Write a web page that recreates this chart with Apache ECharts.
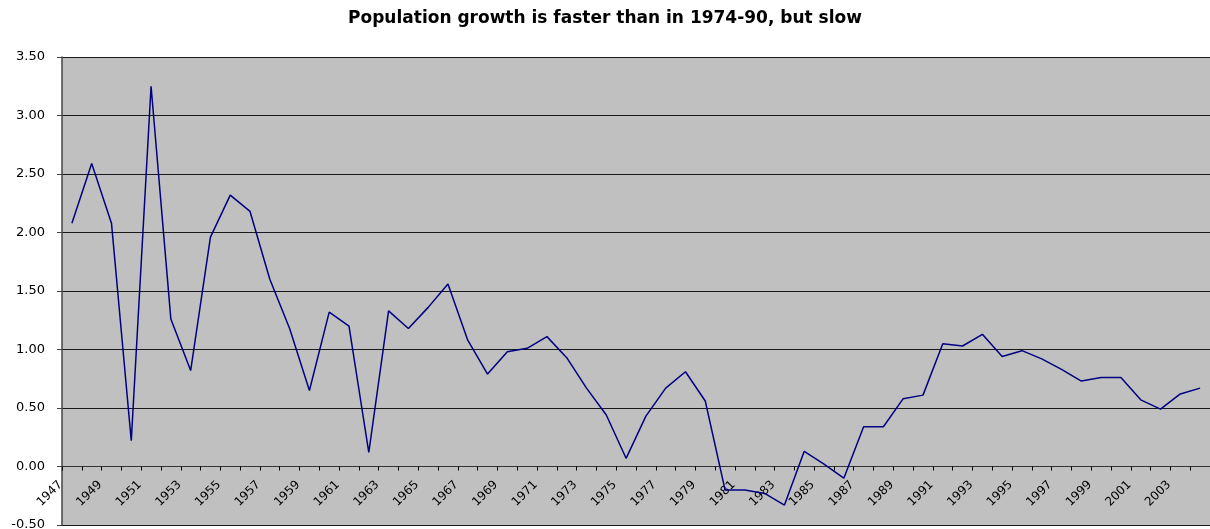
<!DOCTYPE html>
<html>
<head>
<meta charset="utf-8">
<title>Population growth</title>
<script src="https://cdn.jsdelivr.net/npm/echarts@6/dist/echarts.min.js"></script>
<style>
  html, body { margin: 0; padding: 0; background: #fff; }
  #main { width: 1210px; height: 529px; }
</style>
</head>
<body>
<div id="main"></div>
<script>
// years on the x axis
var years = [];
for (var y = 1947; y <= 2004; y++) years.push(String(y));

// population growth, % per year
var growth = [
  2.08, 2.59, 2.08, 0.22, 3.25, 1.26, 0.82, 1.96, 2.32, 2.18,
  1.60, 1.18, 0.65, 1.32, 1.20, 0.12, 1.33, 1.18, 1.36, 1.56,
  1.08, 0.79, 0.98, 1.01, 1.11, 0.93, 0.67, 0.44, 0.07, 0.43,
  0.67, 0.81, 0.56, -0.20, -0.20, -0.23, -0.33, 0.13, 0.02, -0.10,
  0.34, 0.34, 0.58, 0.61, 1.05, 1.03, 1.13, 0.94, 0.99, 0.92,
  0.83, 0.73, 0.76, 0.76, 0.57, 0.49, 0.62, 0.67
];

// y axis range
var yMin = -0.5;
var yMax = 3.5;
var yStep = 0.5;

var gridTop = 57;
var gridBottom = 4;
var chartH = 529;
// the category axis sits on the 0 line, one step above the bottom
var zeroOffset = (chartH - gridTop - gridBottom) * (0 - yMin) / (yMax - yMin);

var myChart = echarts.init(document.getElementById('main'));

var option = {
  animation: false,
  title: {
    text: 'Population growth is faster than in 1974-90, but slow',
    left: 'center',
    top: 5,
    textStyle: {
      fontFamily: 'DejaVu Sans',
      fontWeight: 'bold',
      fontSize: 17,
      color: '#000'
    }
  },
  grid: {
    left: 62,
    right: 0,
    top: gridTop,
    bottom: gridBottom,
    containLabel: false,
    outerBoundsMode: 'none',
    show: true,
    backgroundColor: '#c0c0c0',
    borderWidth: 0
  },
  xAxis: {
    type: 'category',
    data: years,
    boundaryGap: true,
    offset: -zeroOffset,
    axisLine: { onZero: false, lineStyle: { color: '#333', width: 1 } },
    axisTick: { show: true, interval: 0, length: 4, lineStyle: { color: '#000' } },
    axisLabel: {
      interval: 1,
      rotate: 45,
      margin: 5,
      fontFamily: 'DejaVu Sans',
      fontSize: 12,
      color: '#000',
      // push labels left a bit like the original
      padding: [0, 16, 34, 0]
    },
    splitLine: { show: false }
  },
  yAxis: {
    type: 'value',
    min: yMin,
    max: yMax,
    interval: yStep,
    axisLine: { show: true, lineStyle: { color: '#444', width: 1.5 } },
    axisTick: { show: true, length: 5, lineStyle: { color: '#444' } },
    axisLabel: {
      margin: 17,
      fontFamily: 'DejaVu Sans',
      fontSize: 13,
      color: '#000',
      formatter: function (v) { return v.toFixed(2); }
    },
    splitLine: { show: true, lineStyle: { color: '#1a1a1a', width: 1 } }
  },
  series: [
    {
      type: 'line',
      data: growth,
      symbol: 'none',
      lineStyle: { color: '#000080', width: 1.5 }
    }
  ]
};

myChart.setOption(option);
</script>
</body>
</html>
